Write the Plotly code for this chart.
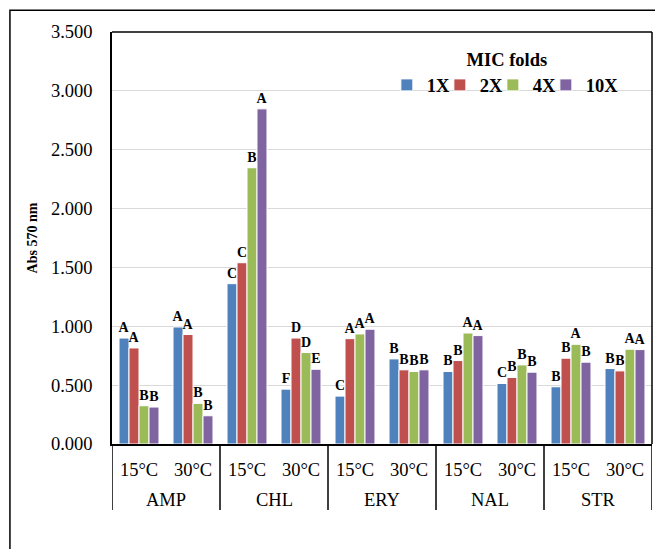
import plotly.graph_objects as go

antibiotics = ["AMP", "AMP", "CHL", "CHL", "ERY", "ERY", "NAL", "NAL", "STR", "STR"]
temps = ["15°C", "30°C"] * 5
groups = ["AMP", "CHL", "ERY", "NAL", "STR"]
series_names = ["1X", "2X", "4X", "10X"]
colors = ["#4F81BD", "#C0504D", "#9BBB59", "#8064A2"]

v1x = [0.900, 0.994, 1.362, 0.466, 0.407, 0.723, 0.616, 0.514, 0.486, 0.641]
v2x = [0.816, 0.930, 1.540, 0.900, 0.895, 0.630, 0.709, 0.565, 0.729, 0.621]
v4x = [0.325, 0.345, 2.347, 0.777, 0.935, 0.616, 0.943, 0.672, 0.847, 0.805]
v10x = [0.314, 0.240, 2.847, 0.635, 0.975, 0.630, 0.921, 0.610, 0.695, 0.802]

l1x = ["A", "A", "C", "F", "C", "B", "B", "C", "B", "B"]
l2x = ["A", "A", "C", "D", "A", "B", "B", "B", "B", "B"]
l4x = ["B", "B", "B", "D", "A", "B", "A", "B", "A", "A"]
l10x = ["B", "B", "A", "E", "A", "B", "A", "B", "B", "A"]

values = [v1x, v2x, v4x, v10x]
letters = [l1x, l2x, l4x, l10x]

FONT = "Liberation Serif"
x_cats = [f"{a} {t}" for a, t in zip(antibiotics, temps)]
legend_widths = [8, 8, 8, 36]

fig = go.Figure()
for name, col, vals, labs, lw in zip(series_names, colors, values, letters, legend_widths):
    fig.add_trace(go.Bar(
        x=x_cats, y=vals, name=name,
        marker=dict(color=col, line=dict(color="white", width=1)),
        text=labs, textposition="outside", constraintext="none",
        cliponaxis=False, legendwidth=lw,
        textfont=dict(family=FONT, size=14, color="black", weight="bold"),
    ))

fig.update_layout(
    width=655, height=549,
    margin=dict(l=112, r=3, t=32, b=105),
    paper_bgcolor="white", plot_bgcolor="white",
    barmode="group", bargap=0.26, bargroupgap=0,
    font=dict(family=FONT, size=18.5, color="black"),
    legend=dict(
        orientation="h", x=0.509, xanchor="left", y=0.975, yanchor="top",
        title=dict(text="<b>MIC folds</b>", side="top center",
                   font=dict(family=FONT, size=18.5, color="black")),
        font=dict(family=FONT, size=18.5, color="black", weight="bold"),
        bgcolor="rgba(0,0,0,0)", itemwidth=30, traceorder="normal",
    ),
    xaxis=dict(
        type="category", tickmode="array", tickvals=x_cats, ticktext=temps,
        range=[-0.5, len(x_cats) - 0.5],
        showline=True, linecolor="black", linewidth=1.5,
        ticks="", ticklabelstandoff=8,
        tickfont=dict(family=FONT, size=18.5, color="black"),
    ),
    yaxis=dict(
        range=[0, 3.5], dtick=0.5, tickformat=".3f",
        showgrid=True, gridcolor="#D9D9D9", gridwidth=1,
        showline=True, linecolor="black", linewidth=1.5,
        zeroline=False, ticks="", ticklabelstandoff=14,
        tickfont=dict(family=FONT, size=18.5, color="black"),
        title=dict(text="<b>Abs 570 nm</b>", standoff=10,
                   font=dict(family=FONT, size=14, color="black")),
    ),
)

# antibiotic group labels below the temperature labels
for i, g in enumerate(groups):
    fig.add_annotation(x=2 * i + 0.5, xref="x", y=-0.136, yref="paper",
                       text=g, showarrow=False, yanchor="middle",
                       font=dict(family=FONT, size=18.5, color="black"))

# group dividers
for i in range(len(groups) + 1):
    fig.add_shape(type="line", xref="x", yref="paper",
                  x0=2 * i - 0.5, x1=2 * i - 0.5, y0=0, y1=-0.16,
                  line=dict(color="black", width=1.5))

# outer frame and plot box
fig.add_shape(type="rect", xref="paper", yref="paper",
              x0=-0.189, x1=1.03, y0=-0.3, y1=1.053,
              line=dict(color="black", width=1.5), layer="above")
fig.add_shape(type="line", xref="paper", yref="paper",
              x0=0, x1=1, y0=1, y1=1, line=dict(color="black", width=1.5))
fig.add_shape(type="line", xref="paper", yref="paper",
              x0=1, x1=1, y0=1, y1=0, line=dict(color="black", width=1.5))

fig.write_html("out.html", config={"displayModeBar": False})

with open("out.html", encoding="utf-8") as f:
    html = f.read()
html = html.replace("<body>", '<body style="margin:0;padding:0;">', 1)
html = html.replace("<head>", "<head><style>html,body{margin:0;padding:0;overflow:hidden;}</style>", 1)
with open("out.html", "w", encoding="utf-8") as f:
    f.write(html)
